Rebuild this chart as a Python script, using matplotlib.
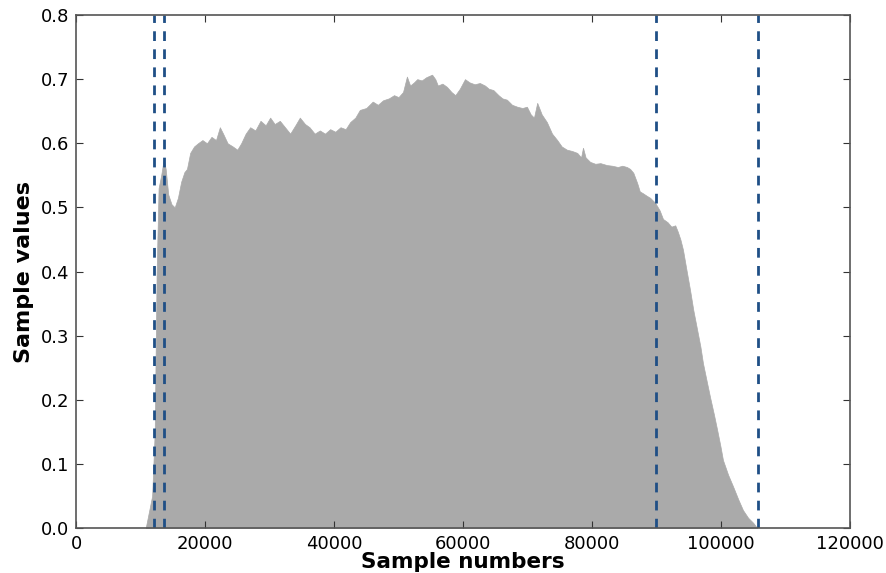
import numpy as np
import matplotlib
matplotlib.use("Agg")
import matplotlib.pyplot as plt

# envelope of the waveform (sample number, value)
sample_numbers = [10800, 11200, 11800, 12200, 12500, 12800, 13200, 13600, 13900, 14300,
                  14800, 15300, 15800, 16300, 16800, 17200, 17700, 18300, 18900, 19600,
                  20300, 21000, 21700, 22300, 22800, 23500, 24300, 25000, 25600, 26300,
                  27000, 27800, 28600, 29400, 30100, 30800, 31600, 32400, 33200, 34000,
                  34700, 35500, 36200, 37000, 37800, 38600, 39400, 40200, 41000, 41800,
                  42500, 43300, 44000, 45000, 46000, 46800, 47600, 48500, 49300, 50000,
                  50700, 51300, 51800, 52400, 52900, 53600, 54300, 55200, 55700, 56100,
                  56800, 57500, 58200, 58800, 59500, 60300, 61000, 61800, 62600, 63400,
                  64000, 64700, 65500, 66100, 66800, 67600, 68400, 69200, 69900, 70500,
                  71000, 71500, 72200, 73000, 73800, 74600, 75300, 76100, 76900, 77700,
                  78300, 78600, 79000, 79700, 80500, 81300, 82300, 83100, 84000, 84700,
                  85400, 85900, 86400, 87000, 87400, 87900, 88500, 89000, 89800, 90500,
                  91000, 91700, 92300, 92900, 93300, 93700, 94100, 94600, 95200, 95700,
                  96300, 96800, 97200, 97800, 98300, 98900, 99400, 99900, 100300, 101100,
                  101900, 102700, 103400, 104200, 105000, 105600]
sample_values = [0.0, 0.02, 0.05, 0.15, 0.40, 0.53, 0.55, 0.575, 0.56, 0.52,
                 0.505, 0.50, 0.515, 0.54, 0.555, 0.56, 0.585, 0.595, 0.60, 0.605,
                 0.60, 0.61, 0.605, 0.625, 0.615, 0.60, 0.595, 0.59, 0.60, 0.615,
                 0.625, 0.62, 0.635, 0.628, 0.64, 0.63, 0.635, 0.625, 0.615, 0.628,
                 0.64, 0.63, 0.625, 0.615, 0.62, 0.615, 0.622, 0.618, 0.625, 0.622,
                 0.633, 0.64, 0.652, 0.655, 0.665, 0.66, 0.667, 0.67, 0.675, 0.672,
                 0.68, 0.704, 0.69, 0.695, 0.70, 0.698, 0.703, 0.707, 0.70, 0.69,
                 0.693, 0.688, 0.68, 0.675, 0.685, 0.70, 0.695, 0.692, 0.694, 0.69,
                 0.685, 0.683, 0.675, 0.67, 0.668, 0.66, 0.657, 0.655, 0.657, 0.645,
                 0.64, 0.663, 0.645, 0.633, 0.615, 0.605, 0.595, 0.59, 0.588, 0.585,
                 0.578, 0.593, 0.578, 0.571, 0.568, 0.569, 0.566, 0.565, 0.563, 0.565,
                 0.563, 0.56, 0.554, 0.538, 0.525, 0.522, 0.518, 0.515, 0.507, 0.495,
                 0.482, 0.477, 0.47, 0.472, 0.462, 0.45, 0.434, 0.405, 0.371, 0.34,
                 0.309, 0.283, 0.257, 0.228, 0.204, 0.177, 0.153, 0.128, 0.106, 0.083,
                 0.064, 0.044, 0.028, 0.016, 0.008, 0.0]

# segment boundaries (dashed lines)
boundaries = [12100, 13650, 89900, 105800]


def main():
    fig = plt.figure(figsize=(8.86, 5.73), dpi=100)
    ax = fig.add_axes([0.0858, 0.0785, 0.8736, 0.8953])

    ax.fill_between(sample_numbers, 0, sample_values, color="#aaaaaa", linewidth=0.5,
                    edgecolor="#aaaaaa")
    for b in boundaries:
        ax.axvline(b, color="#1f4f86", linestyle="--", linewidth=2, dashes=(3.5, 3))

    ax.set_xlim(0, 120000)
    ax.set_ylim(0, 0.8)
    ax.set_xticks(np.arange(0, 120001, 20000))
    ax.set_yticks(np.arange(0, 0.81, 0.1))
    ax.set_yticklabels(["%.1f" % v for v in np.arange(0, 0.81, 0.1)])
    ax.tick_params(direction="in", top=True, right=True, length=5, labelsize=13,
                   pad=5, color="#333333")
    for s in ax.spines.values():
        s.set_color("#555555")
        s.set_linewidth(1.2)

    ax.set_xlabel("Sample numbers", fontsize=15.5, fontweight="bold", labelpad=-1)
    ax.set_ylabel("Sample values", fontsize=16, fontweight="bold", labelpad=5)

    fig.savefig("out.png", dpi=100)


if __name__ == "__main__":
    main()
